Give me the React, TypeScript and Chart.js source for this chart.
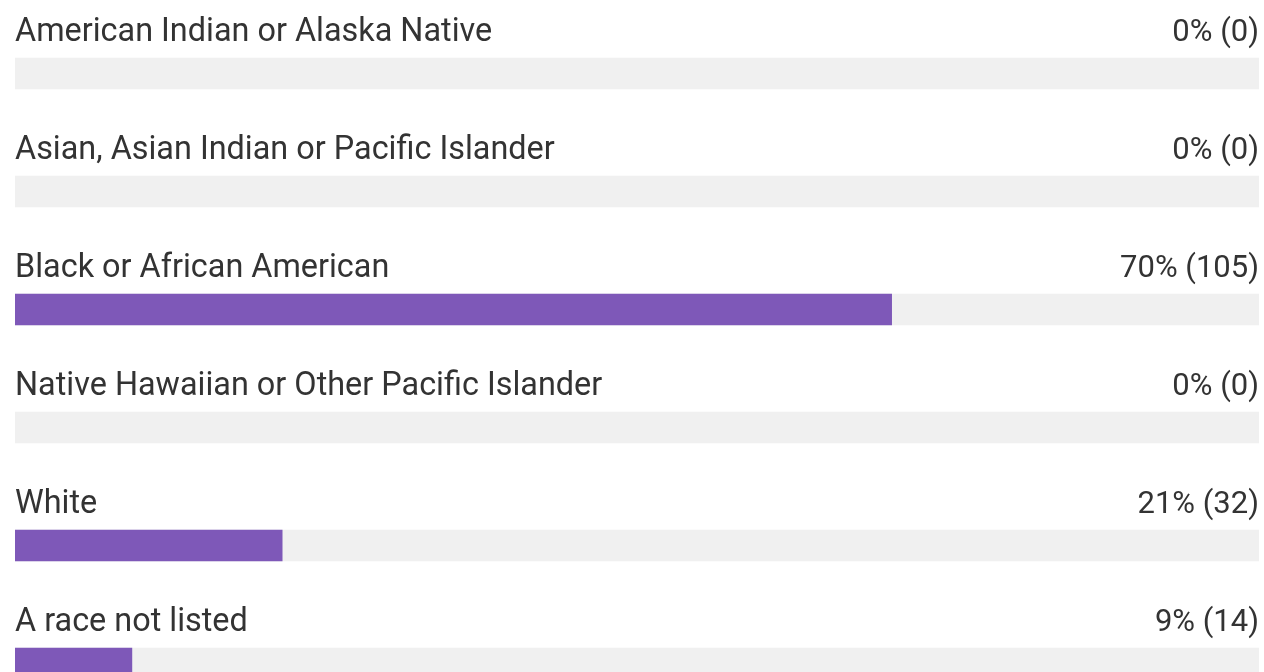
import React, { useEffect, useRef } from "react";
import { Chart, registerables } from "chart.js";

Chart.register(...registerables);

const categories = [
  "American Indian or Alaska Native",
  "Asian, Asian Indian or Pacific Islander",
  "Black or African American",
  "Native Hawaiian or Other Pacific Islander",
  "White",
  "A race not listed",
];
const counts = [0, 0, 105, 0, 32, 14];
const percentLabels = ["0%", "0%", "70%", "0%", "21%", "9%"];
const totalRespondents = 149;

const FILL = "#7E58B8";
const TRACK = "#F0F0F0";
const TEXT = "#333333";
const LABEL_FONT = "32.4px Roboto";
const VALUE_FONT = "31px Roboto";

const labelPlugin = {
  id: "rowLabels",
  afterDatasetsDraw(chart: any) {
    const { ctx, scales } = chart;
    const y = scales.y;
    const area = chart.chartArea;
    ctx.save();
    ctx.fillStyle = TEXT;
    ctx.textBaseline = "alphabetic";
    categories.forEach((cat, i) => {
      const cy = y.getPixelForValue(i);
      const baseline = cy - 15.5 - 17;
      ctx.font = LABEL_FONT;
      ctx.textAlign = "left";
      ctx.fillText(cat, area.left, baseline);
      ctx.font = VALUE_FONT;
      ctx.textAlign = "right";
      ctx.fillText(`${percentLabels[i]} (${counts[i]})`, area.right, baseline);
    });
    ctx.restore();
  },
};

export default function App() {
  const ref = useRef<HTMLCanvasElement>(null);
  useEffect(() => {
    if (!ref.current) return;
    const chart = new Chart(ref.current, {
      type: "bar",
      data: {
        labels: categories,
        datasets: [
          {
            data: counts,
            backgroundColor: (c: any) => (c.raw > 0 ? FILL : "rgba(0,0,0,0)"),
            borderWidth: 0,
            barThickness: 31,
            grouped: false,
            order: 0,
          } as any,
          {
            data: categories.map(() => totalRespondents),
            backgroundColor: TRACK,
            borderWidth: 0,
            barThickness: 31,
            grouped: false,
            order: 1,
          } as any,
        ],
      },
      options: {
        indexAxis: "y",
        animation: false,
        responsive: false,
        maintainAspectRatio: false,
        layout: { padding: { left: 15, right: 5, top: 14.5, bottom: 17.5 } },
        plugins: { legend: { display: false }, tooltip: { enabled: false } },
        scales: {
          x: { display: false, min: 0, max: totalRespondents },
          y: { display: false },
        },
      },
      plugins: [labelPlugin],
    });
    return () => chart.destroy();
  }, []);
  return (
    <div style={{ position: "fixed", left: 0, top: 0, width: 1264, height: 672, overflow: "hidden", background: "#fff" }}>
      <canvas ref={ref} width={1264} height={740} style={{ display: "block" }} />
    </div>
  );
}
